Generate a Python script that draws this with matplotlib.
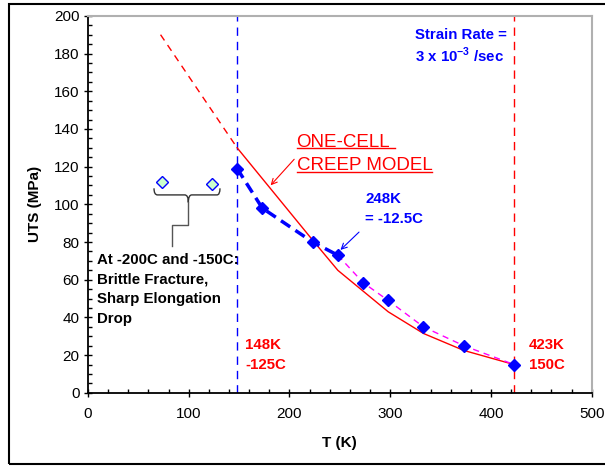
import matplotlib.pyplot as plt
from matplotlib.path import Path
from matplotlib.patches import PathPatch, Rectangle
from matplotlib.lines import Line2D
from matplotlib.ticker import MultipleLocator

plt.rcParams['font.family'] = ['Liberation Sans', 'DejaVu Sans']
plt.rcParams['mathtext.fontset'] = 'custom'
plt.rcParams['mathtext.rm'] = 'Liberation Sans'
plt.rcParams['mathtext.bf'] = 'Liberation Sans:bold'

# measured UTS vs temperature
temp_k = [148, 173, 223, 248, 273, 298, 333, 373, 423]
uts = [119, 98, 80, 73, 58.5, 49, 35, 25, 15]
# brittle fracture points (-200C, -150C)
brittle_t = [73, 123]
brittle_uts = [112, 111]
# one-cell creep model
model_t = [148, 223, 248, 298, 333, 373, 423]
model_uts = [130, 81, 65, 43, 31.5, 22.5, 15]
extrap_t = [72, 148]
extrap_uts = [190, 130]

fig = plt.figure(figsize=(6.05, 4.66), dpi=100)
ax = fig.add_axes([0.1455, 0.157, 0.8325, 0.809])

ax.axvline(148, color='blue', ls=(0, (6, 4.3)), lw=1)
ax.axvline(423, color='red', ls=(0, (6, 4.3)), lw=1)

ax.plot(extrap_t, extrap_uts, color='red', ls=(0, (5, 4)), lw=1)
ax.plot(model_t, model_uts, color='red', lw=1)
ax.plot(temp_k[:4], uts[:4], color='blue', ls=(0, (3.2, 1.8)), lw=2.5)
ax.plot(temp_k[3:], uts[3:], color='magenta', ls=(0, (4.5, 3.5)), lw=1)
ax.plot(temp_k, uts, 'D', color='blue', ms=6, ls='none')
ax.plot(brittle_t, brittle_uts, 'D', mfc='#ccffcc', mec='blue', ms=6,
        mew=1, ls='none')

ax.set_xlim(0, 500)
ax.set_ylim(0, 200)
ax.xaxis.set_major_locator(MultipleLocator(100))
ax.xaxis.set_minor_locator(MultipleLocator(20))
ax.yaxis.set_major_locator(MultipleLocator(20))
ax.yaxis.set_minor_locator(MultipleLocator(5))
ax.tick_params(which='major', direction='inout', length=6, width=1,
               labelsize=11)
ax.tick_params(axis='y', which='major', pad=3)
ax.tick_params(axis='x', which='major', pad=7)
ax.tick_params(which='minor', direction='in', length=3, width=1)
for s in ['top', 'right']:
    ax.spines[s].set_color('#b0b0b0')
    ax.spines[s].set_linewidth(1.5)
for s in ['left', 'bottom']:
    ax.spines[s].set_linewidth(1.3)

ax.set_xlabel('T (K)', fontsize=11, fontweight='bold', labelpad=11)
ax.set_ylabel('UTS (MPa)', fontsize=11, fontweight='bold', labelpad=9)

# brace and leader line
brace = Path(
    [(65.5, 108.5), (65.5, 105), (69, 105), (96, 105), (99.6, 105), (99.6, 101),
     (99.6, 105), (103, 105), (128, 105), (131, 105), (131, 108.5)],
    [Path.MOVETO, Path.CURVE3, Path.CURVE3, Path.LINETO, Path.CURVE3, Path.CURVE3,
     Path.CURVE3, Path.CURVE3, Path.LINETO, Path.CURVE3, Path.CURVE3])
ax.add_patch(PathPatch(brace, fill=False, color='#333333', lw=1))
ax.plot([99.6, 99.6, 83.7, 83.7], [101, 89.3, 89.3, 78], color='#555555', lw=1)

bold = dict(fontsize=10.8, fontweight='bold')
ax.text(325, 187.8, 'Strain Rate =', color='blue', **bold)
ax.text(325, 175.4, r'3 x 10$^{\mathbf{-3}}$ /sec', color='blue', **bold)
ax.text(275, 100.5, '248K', color='blue', **bold)
ax.text(275, 89.9, '= -12.5C', color='blue', **bold)
ax.annotate('', xy=(248.6, 74.8), xytext=(271, 86.3),
            arrowprops=dict(arrowstyle='->', color='blue', lw=0.8))
ax.text(156, 23.2, '148K', color='red', **bold)
ax.text(156, 12.4, '-125C', color='red', **bold)
ax.text(437.5, 23.2, '423K', color='red', **bold)
ax.text(437.5, 12.4, '150C', color='red', **bold)
for i, line in enumerate(['At -200C and -150C:', 'Brittle Fracture,',
                          'Sharp Elongation', 'Drop']):
    ax.text(9.3, 68.6 - 10.6 * i, line, color='black', **bold)

t1 = ax.text(207, 130.5, 'ONE-CELL', color='red', fontsize=13.5)
t2 = ax.text(207, 118.1, 'CREEP MODEL', color='red', fontsize=13.5)
ax.annotate('', xy=(179.4, 109), xytext=(206.5, 125),
            arrowprops=dict(arrowstyle='->', color='red', lw=0.8))

fig.canvas.draw()
r = fig.canvas.get_renderer()
for t, extra in [(t1, 5), (t2, 0)]:
    bb = t.get_window_extent(r)
    x0, y_base = t.get_position()
    yb = ax.transData.transform((x0, y_base))[1] - 1.5
    fig.add_artist(Line2D([bb.x0, bb.x1 + extra], [yb, yb], color='red',
                          lw=1, transform=None))

fig.add_artist(Rectangle((0.0154, 0.0036), 1.0, 0.9878, fill=False,
                         lw=1.5, color='black', transform=fig.transFigure))

fig.savefig('out.png', dpi=100)
